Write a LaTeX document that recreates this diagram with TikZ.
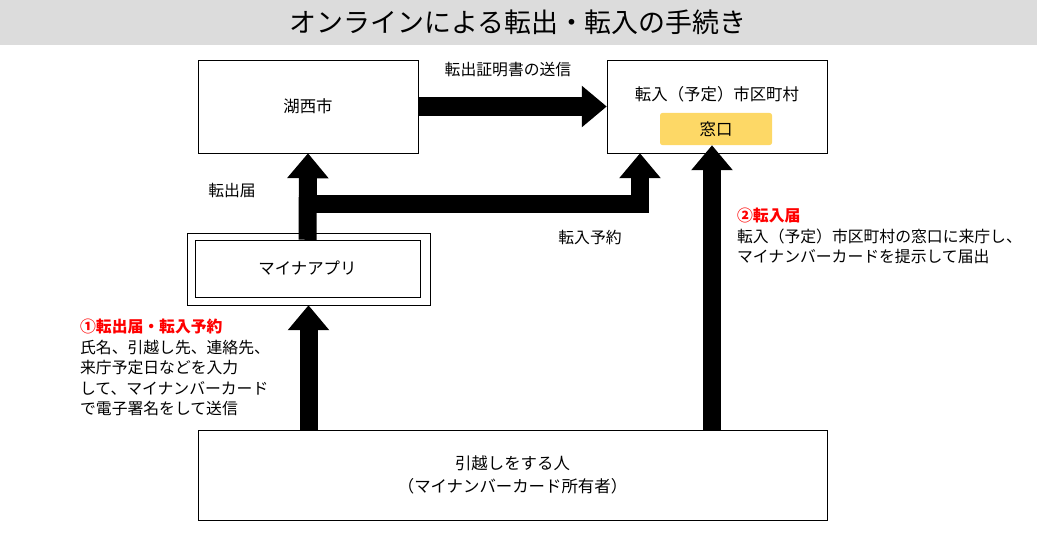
\documentclass[tikz,border=0pt]{standalone}
\usepackage{fontspec}
\setmainfont{Noto Sans CJK JP}
\usetikzlibrary{arrows.meta,positioning}
\definecolor{titlegray}{HTML}{DCDCDC}
\definecolor{madoyellow}{HTML}{FDD866}
\definecolor{notered}{HTML}{FF0000}
\tikzset{
  box/.style={draw,thin,inner sep=0pt},
  fat/.style={line width=0.54cm,-{Triangle[width=1.2cm,length=0.75cm]}},
  bar/.style={line width=0.54cm},
  lbl/.style={font=\fontsize{13.5}{17.5}\selectfont,align=left}
}
\begin{document}
\begin{tikzpicture}[x=0.03cm,y=-0.03cm]
\useasboundingbox (0,0) rectangle (1037,535);
\fill[titlegray] (0,0) rectangle (1037,45);
\node (title) at (518,22) {\fontsize{23}{27}\selectfont オンラインによる転出・転入の手続き};

\node[box,minimum width=6.6cm,minimum height=2.79cm,font=\fontsize{14}{17}\selectfont] (kosai) at (308,106.5) {湖西市};
\node[box,minimum width=6.6cm,minimum height=2.79cm] (tennyu) at (717,106.5) {};
\node[font=\fontsize{14}{17}\selectfont] (tennyut) at (717,94) {転入（予定）市区町村};
\node[fill=madoyellow,rounded corners=2pt,minimum width=3.36cm,minimum height=0.96cm,font=\fontsize{14}{17}\selectfont] (mado) at (716,129) {窓口};

\node[box,minimum width=7.29cm,minimum height=2.16cm] (outer) at (308.5,269) {};
\node[box,minimum width=6.75cm,minimum height=1.71cm,font=\fontsize{14}{17}\selectfont] (app) at (307.5,268.5) {マイナアプリ};

\node[box,minimum width=18.87cm,minimum height=2.7cm,align=center,font=\fontsize{14}{19}\selectfont] (person) at (512.5,475) {引越しをする人\\（マイナンバーカード所有者）};

% arrows
\draw[fat] (kosai.east) -- (tennyu.west);
\draw[fat] (person.north -| outer.south) -- (outer.south);
\draw[fat] (app.north) -- (kosai.south);
\coordinate (j1) at (app.north |- 0,204);
\coordinate (j2) at (640,204);
\draw[bar] ([xshift=-0.27cm]j1) -- ([xshift=0.27cm]j2);
\draw[fat] (j2) -- (j2 |- tennyu.south);
\coordinate (p2) at (712,430);
\draw[fat] (p2) -- (p2 |- mado.south);

% labels
\node[lbl] (l1) at (508,70) {転出証明書の送信};
\node[lbl] (l2) at (232,190) {転出届};
\node[lbl] (l3) at (590,237) {転入予約};
\node[lbl,anchor=north west] (l4) at (733,204) {{\bfseries\color{notered}②転入届}\\転入（予定）市区町村の窓口に来庁し、\\マイナンバーカードを提示して届出};
\node[lbl,anchor=north west] (l5) at (76,315) {{\bfseries\color{notered}①転出届・転入予約}\\氏名、引越し先、連絡先、\\来庁予定日などを入力\\して、マイナンバーカード\\で電子署名をして送信};
\end{tikzpicture}
\end{document}
